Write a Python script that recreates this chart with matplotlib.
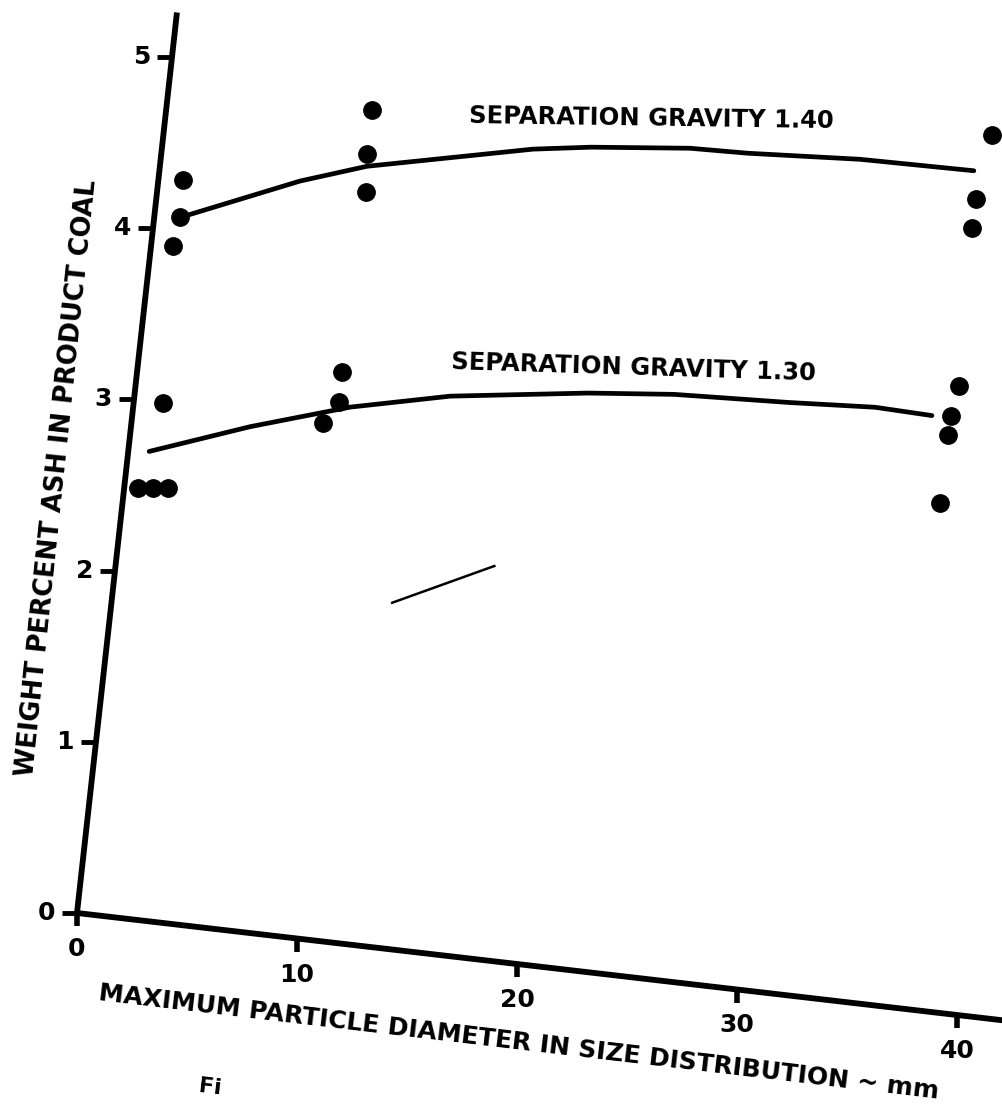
import numpy as np
import matplotlib
matplotlib.use("Agg")
import matplotlib.pyplot as plt
from matplotlib.transforms import Affine2D

# ---- data (mm, weight % ash) ----
x_ticks = [0, 10, 20, 30, 40]
y_ticks = [0, 1, 2, 3, 4, 5]

# separation gravity 1.40
x140_pts = [1.11, 1.16, 0.99, 9.24, 9.24, 9.38, 37.19, 36.78, 36.75]
y140_pts = [4.30, 4.08, 3.91, 4.83, 4.57, 4.35, 5.10, 4.72, 4.55]
curve140_x = [1.16, 6.36, 9.29, 16.66, 19.25, 23.70, 26.33, 31.39, 36.55]
curve140_y = [4.08, 4.37, 4.50, 4.71, 4.76, 4.82, 4.83, 4.87, 4.88]

# separation gravity 1.30
x130_pts = [1.32, 0.62, 1.29, 1.97, 9.20, 9.21, 8.60, 36.95, 36.75, 36.71, 36.69]
y130_pts = [3.00, 2.49, 2.50, 2.51, 3.30, 3.12, 2.99, 3.63, 3.45, 3.34, 2.94]
curve130_x = [0.94, 5.34, 9.74, 14.17, 20.34, 24.21, 29.41, 33.30, 35.89]
curve130_y = [2.71, 2.92, 3.10, 3.23, 3.34, 3.39, 3.42, 3.45, 3.44]

# stray pen stroke on the scan
stray_x = [12.6, 17.0]
stray_y = [2.00, 2.28]

plt.rcParams['font.family'] = ['DejaVu Sans']

fig = plt.figure(figsize=(10.02, 11.04), dpi=100)
ax = fig.add_axes([0, 0, 1, 1])
ax.set_xlim(0, 1002)
ax.set_ylim(1104, 0)
ax.axis('off')

# the scanned page is rotated: map (mm, %) onto the page
skew = Affine2D(np.array([[22.0, 19.0, 77.0],
                          [2.55, -171.2, 913.0],
                          [0.0, 0.0, 1.0]]))
tr = skew + ax.transData

ink = 'black'

# axes
ax.plot([0, 42.6], [0, 0], color=ink, lw=4.2, transform=tr, solid_capstyle='butt')
ax.plot([0, 0], [0, 5.26], color=ink, lw=4.2, transform=tr, solid_capstyle='butt')

# ticks (drawn straight on the page, like the original)
ax.plot(x_ticks, [0] * len(x_ticks), ls='', marker=3, ms=9.5, mew=4, color=ink, transform=tr)
ax.plot([0] * len(y_ticks), y_ticks, ls='', marker=0, ms=11, mew=3.5, color=ink, transform=tr)

for xt in x_ticks:
    ax.annotate(str(xt), xy=(xt, 0), xycoords=tr, xytext=(0, -36),
                textcoords='offset pixels', ha='center', va='center',
                fontsize=18, fontweight='bold')
for yt in y_ticks:
    ax.annotate(str(yt), xy=(0, yt), xycoords=tr, xytext=(-22, 0),
                textcoords='offset pixels', ha='right', va='center',
                fontsize=18, fontweight='bold')

# curves and points
ax.plot(curve140_x, curve140_y, color=ink, lw=3.4, transform=tr,
        solid_capstyle='round', solid_joinstyle='round')
ax.plot(curve130_x, curve130_y, color=ink, lw=3.4, transform=tr,
        solid_capstyle='round', solid_joinstyle='round')
ax.plot(x140_pts, y140_pts, ls='', marker='o', ms=12.5, color=ink, transform=tr)
ax.plot(x130_pts, y130_pts, ls='', marker='o', ms=12.5, color=ink, transform=tr)
ax.plot(stray_x, stray_y, color=ink, lw=1.8, transform=tr)

# labels
ax.text(651, 119, 'SEPARATION GRAVITY 1.40', ha='center', va='center',
        fontsize=17.5, fontweight='bold', rotation=-0.8)
ax.text(634, 368, 'SEPARATION GRAVITY 1.30', ha='center', va='center',
        fontsize=17.5, fontweight='bold', rotation=-1.8)
ax.text(519, 1042, 'MAXIMUM PARTICLE DIAMETER IN SIZE DISTRIBUTION ~ mm',
        ha='center', va='center', fontsize=18, fontweight='bold',
        rotation=-6.7, rotation_mode='anchor')
ax.text(57, 478, 'WEIGHT PERCENT ASH IN PRODUCT COAL', ha='center', va='center',
        fontsize=18.5, fontweight='bold', rotation=84, rotation_mode='anchor')

# start of the figure caption at the bottom edge of the scan
ax.text(200, 1076, 'Fi', ha='left', va='top', fontsize=16, fontweight='bold',
        rotation=-6.7, rotation_mode='anchor')

fig.savefig('out.png', dpi=100)
